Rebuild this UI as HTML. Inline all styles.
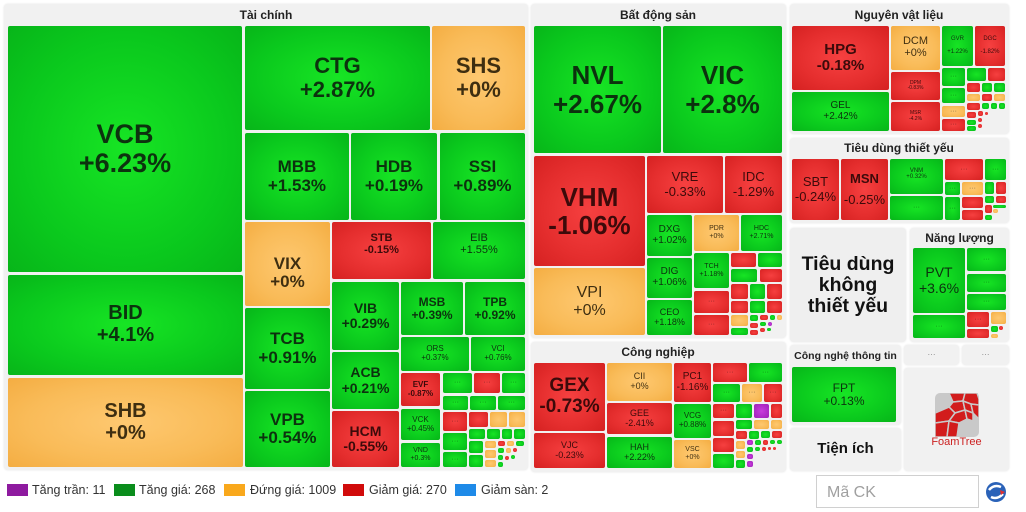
<!DOCTYPE html>
<html><head><meta charset="utf-8">
<style>
*{margin:0;padding:0;box-sizing:border-box}
html,body{width:1026px;height:512px;background:#fff;overflow:hidden;font-family:"Liberation Sans",Arial,sans-serif}
.p{position:absolute;background:#f1f1f1;border-radius:4px;box-shadow:0 0 2px rgba(0,0,0,.12)}
.t{position:absolute;font-size:12px;font-weight:bold;color:#222;text-align:center;white-space:nowrap}
.c{position:absolute;display:flex;align-items:center;justify-content:center;text-align:center;line-height:1.08;font-weight:bold;border-radius:2px;color:rgba(12,22,12,.86);white-space:nowrap;overflow:hidden}
.c>div{display:block}
.g{background:radial-gradient(ellipse at 50% 50%,#17e524 0%,#0ac81d 65%,#07b519 100%)}
.r{background:radial-gradient(ellipse at 50% 50%,#f64040 0%,#e52e2e 60%,#d52121 100%);color:rgba(35,5,5,.88)}
.o{background:radial-gradient(ellipse at 50% 50%,#fec870 0%,#f9bb58 60%,#f4ad42 100%);color:rgba(35,25,5,.88)}
.u{background:radial-gradient(ellipse at 50% 50%,#c83ddc 0%,#9f20b8 100%)}
.n{font-weight:normal}
.d{font-size:7px;font-weight:normal;color:rgba(0,0,0,.5)}
.lg{position:absolute;top:484px;width:21px;height:12px}
.lt{position:absolute;top:483px;font-size:12.5px;color:#333;white-space:nowrap}
</style></head><body>

<!-- Tài chính -->
<div class="p" style="left:4px;top:4px;width:524px;height:466px"></div>
<div class="t" style="left:216px;top:8px;width:100px">Tài chính</div>
<div class="c g" style="left:8px;top:26px;width:234px;height:246px;font-size:27px"><div>VCB<br>+6.23%</div></div>
<div class="c g" style="left:8px;top:275px;width:235px;height:100px;font-size:20px"><div>BID<br>+4.1%</div></div>
<div class="c o" style="left:8px;top:378px;width:235px;height:89px;font-size:20px"><div>SHB<br>+0%</div></div>
<div class="c g" style="left:245px;top:26px;width:185px;height:104px;font-size:22px"><div>CTG<br>+2.87%</div></div>
<div class="c o" style="left:432px;top:26px;width:93px;height:104px;font-size:22px"><div>SHS<br>+0%</div></div>
<div class="c g" style="left:245px;top:133px;width:104px;height:87px;font-size:17px"><div>MBB<br>+1.53%</div></div>
<div class="c g" style="left:351px;top:133px;width:86px;height:87px;font-size:17px"><div>HDB<br>+0.19%</div></div>
<div class="c g" style="left:440px;top:133px;width:85px;height:87px;font-size:17px"><div>SSI<br>+0.89%</div></div>
<div class="c o" style="left:245px;top:222px;width:85px;height:84px;font-size:17px;padding-top:18px"><div>VIX<br>+0%</div></div>
<div class="c r" style="left:332px;top:222px;width:99px;height:57px;font-size:11px;padding-bottom:12px"><div>STB<br>-0.15%</div></div>
<div class="c g n" style="left:433px;top:222px;width:92px;height:57px;font-size:11px;padding-bottom:12px"><div>EIB<br>+1.55%</div></div>
<div class="c g" style="left:245px;top:308px;width:85px;height:81px;font-size:17px"><div>TCB<br>+0.91%</div></div>
<div class="c g" style="left:245px;top:391px;width:85px;height:76px;font-size:17px"><div>VPB<br>+0.54%</div></div>
<div class="c g" style="left:332px;top:282px;width:67px;height:68px;font-size:14px"><div>VIB<br>+0.29%</div></div>
<div class="c g" style="left:332px;top:352px;width:67px;height:57px;font-size:14px"><div>ACB<br>+0.21%</div></div>
<div class="c r" style="left:332px;top:411px;width:67px;height:56px;font-size:14px"><div>HCM<br>-0.55%</div></div>
<div class="c g" style="left:401px;top:282px;width:62px;height:53px;font-size:12px"><div>MSB<br>+0.39%</div></div>
<div class="c g" style="left:465px;top:282px;width:60px;height:53px;font-size:12px"><div>TPB<br>+0.92%</div></div>
<div class="c g n" style="left:401px;top:337px;width:68px;height:34px;font-size:8px"><div>ORS<br>+0.37%</div></div>
<div class="c g n" style="left:471px;top:337px;width:54px;height:34px;font-size:8px"><div>VCI<br>+0.76%</div></div>
<div class="c r" style="left:401px;top:373px;width:39px;height:33px;font-size:8px"><div>EVF<br>-0.87%</div></div>
<div class="c g n" style="left:401px;top:409px;width:39px;height:31px;font-size:8px"><div>VCK<br>+0.45%</div></div>
<div class="c g n" style="left:401px;top:443px;width:39px;height:24px;font-size:7px"><div>VND<br>+0.3%</div></div>
<div class="c g d" style="left:443px;top:373px;width:29px;height:20px">···</div>
<div class="c r d" style="left:474px;top:373px;width:26px;height:20px">···</div>
<div class="c g d" style="left:502px;top:373px;width:23px;height:20px">···</div>
<div class="c g d" style="left:443px;top:396px;width:25px;height:14px">···</div>
<div class="c g d" style="left:470px;top:396px;width:26px;height:14px">···</div>
<div class="c g d" style="left:498px;top:396px;width:27px;height:14px">···</div>
<div class="c r d" style="left:443px;top:412px;width:24px;height:19px">···</div>
<div class="c r" style="left:469px;top:412px;width:19px;height:15px"></div>
<div class="c o" style="left:490px;top:412px;width:17px;height:15px"></div>
<div class="c o" style="left:509px;top:412px;width:16px;height:15px"></div>
<div class="c g d" style="left:443px;top:433px;width:24px;height:17px">···</div>
<div class="c g d" style="left:443px;top:452px;width:24px;height:15px">···</div>
<div class="c g" style="left:469px;top:429px;width:16px;height:10px"></div>
<div class="c g" style="left:487px;top:429px;width:13px;height:10px"></div>
<div class="c g" style="left:502px;top:429px;width:10px;height:10px"></div>
<div class="c g" style="left:514px;top:429px;width:11px;height:10px"></div>
<div class="c g" style="left:469px;top:441px;width:14px;height:12px"></div>
<div class="c g" style="left:469px;top:455px;width:14px;height:12px"></div>
<div class="c o" style="left:485px;top:441px;width:11px;height:7px"></div>
<div class="c r" style="left:498px;top:441px;width:7px;height:5px"></div>
<div class="c o" style="left:507px;top:441px;width:7px;height:5px"></div>
<div class="c g" style="left:516px;top:441px;width:8px;height:5px"></div>
<div class="c o" style="left:485px;top:450px;width:11px;height:8px"></div>
<div class="c g" style="left:498px;top:448px;width:6px;height:5px"></div>
<div class="c o" style="left:506px;top:448px;width:5px;height:5px"></div>
<div class="c r" style="left:513px;top:448px;width:4px;height:4px"></div>
<div class="c o" style="left:485px;top:460px;width:11px;height:7px"></div>
<div class="c g" style="left:498px;top:455px;width:5px;height:5px"></div>
<div class="c r" style="left:505px;top:456px;width:4px;height:4px"></div>
<div class="c g" style="left:498px;top:462px;width:5px;height:5px"></div>
<div class="c g" style="left:511px;top:455px;width:4px;height:4px"></div>

<!-- Bất động sản -->
<div class="p" style="left:531px;top:4px;width:255px;height:334px"></div>
<div class="t" style="left:598px;top:8px;width:120px">Bất động sản</div>
<div class="c g" style="left:534px;top:26px;width:127px;height:127px;font-size:26px"><div>NVL<br>+2.67%</div></div>
<div class="c g" style="left:663px;top:26px;width:119px;height:127px;font-size:26px"><div>VIC<br>+2.8%</div></div>
<div class="c r" style="left:534px;top:156px;width:111px;height:110px;font-size:26px"><div>VHM<br>-1.06%</div></div>
<div class="c o n" style="left:534px;top:268px;width:111px;height:67px;font-size:16px"><div>VPI<br>+0%</div></div>
<div class="c r n" style="left:647px;top:156px;width:76px;height:57px;font-size:13px"><div>VRE<br>-0.33%</div></div>
<div class="c r n" style="left:725px;top:156px;width:57px;height:57px;font-size:13px"><div>IDC<br>-1.29%</div></div>
<div class="c g n" style="left:647px;top:215px;width:45px;height:41px;font-size:10px"><div>DXG<br>+1.02%</div></div>
<div class="c o n" style="left:694px;top:215px;width:45px;height:36px;font-size:7px"><div>PDR<br>+0%</div></div>
<div class="c g n" style="left:741px;top:215px;width:41px;height:36px;font-size:7px"><div>HDC<br>+2.71%</div></div>
<div class="c g n" style="left:647px;top:258px;width:45px;height:40px;font-size:10px"><div>DIG<br>+1.06%</div></div>
<div class="c g n" style="left:647px;top:300px;width:45px;height:35px;font-size:9px"><div>CEO<br>+1.18%</div></div>
<div class="c g n" style="left:694px;top:253px;width:35px;height:35px;font-size:7px"><div>TCH<br>+1.18%</div></div>
<div class="c r d" style="left:694px;top:291px;width:35px;height:22px">···</div>
<div class="c r d" style="left:694px;top:315px;width:35px;height:20px">···</div>
<div class="c r" style="left:731px;top:253px;width:25px;height:14px"></div>
<div class="c g" style="left:758px;top:253px;width:24px;height:14px"></div>
<div class="c g" style="left:731px;top:269px;width:26px;height:13px"></div>
<div class="c r" style="left:760px;top:269px;width:22px;height:13px"></div>
<div class="c r" style="left:731px;top:284px;width:17px;height:15px"></div>
<div class="c g" style="left:750px;top:284px;width:15px;height:15px"></div>
<div class="c r" style="left:767px;top:284px;width:15px;height:15px"></div>
<div class="c r" style="left:731px;top:301px;width:17px;height:12px"></div>
<div class="c g" style="left:750px;top:301px;width:15px;height:12px"></div>
<div class="c r" style="left:767px;top:301px;width:15px;height:12px"></div>
<div class="c o" style="left:731px;top:315px;width:17px;height:11px"></div>
<div class="c g" style="left:731px;top:328px;width:17px;height:7px"></div>
<div class="c g" style="left:750px;top:315px;width:8px;height:6px"></div>
<div class="c r" style="left:760px;top:315px;width:8px;height:5px"></div>
<div class="c g" style="left:770px;top:315px;width:5px;height:5px"></div>
<div class="c o" style="left:777px;top:315px;width:5px;height:5px"></div>
<div class="c r" style="left:750px;top:323px;width:8px;height:5px"></div>
<div class="c g" style="left:760px;top:322px;width:6px;height:4px"></div>
<div class="c u" style="left:768px;top:322px;width:4px;height:4px"></div>
<div class="c r" style="left:750px;top:330px;width:8px;height:5px"></div>
<div class="c r" style="left:760px;top:328px;width:5px;height:4px"></div>
<div class="c g" style="left:767px;top:328px;width:4px;height:3px"></div>

<!-- Công nghiệp -->
<div class="p" style="left:531px;top:342px;width:255px;height:130px"></div>
<div class="t" style="left:598px;top:345px;width:120px">Công nghiệp</div>
<div class="c r" style="left:534px;top:363px;width:71px;height:68px;font-size:19px"><div>GEX<br>-0.73%</div></div>
<div class="c r n" style="left:534px;top:433px;width:71px;height:35px;font-size:9px"><div>VJC<br>-0.23%</div></div>
<div class="c o n" style="left:607px;top:363px;width:65px;height:38px;font-size:9px"><div>CII<br>+0%</div></div>
<div class="c r n" style="left:607px;top:403px;width:65px;height:31px;font-size:9px"><div>GEE<br>-2.41%</div></div>
<div class="c g n" style="left:607px;top:437px;width:65px;height:31px;font-size:9px"><div>HAH<br>+2.22%</div></div>
<div class="c r n" style="left:674px;top:363px;width:37px;height:39px;font-size:10px"><div>PC1<br>-1.16%</div></div>
<div class="c g n" style="left:674px;top:404px;width:37px;height:34px;font-size:8px"><div>VCG<br>+0.88%</div></div>
<div class="c o n" style="left:674px;top:440px;width:37px;height:28px;font-size:7px"><div>VSC<br>+0%</div></div>
<div class="c r d" style="left:713px;top:363px;width:34px;height:19px">···</div>
<div class="c g d" style="left:749px;top:363px;width:33px;height:19px">···</div>
<div class="c g d" style="left:713px;top:384px;width:27px;height:18px">···</div>
<div class="c o d" style="left:742px;top:384px;width:20px;height:18px">···</div>
<div class="c r d" style="left:764px;top:384px;width:18px;height:18px">···</div>
<div class="c r d" style="left:713px;top:404px;width:21px;height:14px">···</div>
<div class="c g" style="left:736px;top:404px;width:16px;height:14px"></div>
<div class="c u" style="left:754px;top:404px;width:15px;height:14px"></div>
<div class="c r" style="left:771px;top:404px;width:11px;height:14px"></div>
<div class="c r" style="left:713px;top:421px;width:21px;height:15px"></div>
<div class="c g" style="left:736px;top:420px;width:16px;height:9px"></div>
<div class="c o" style="left:754px;top:420px;width:15px;height:9px"></div>
<div class="c o" style="left:771px;top:420px;width:11px;height:9px"></div>
<div class="c r" style="left:713px;top:438px;width:21px;height:14px"></div>
<div class="c g" style="left:713px;top:454px;width:21px;height:14px"></div>
<div class="c r" style="left:736px;top:431px;width:11px;height:8px"></div>
<div class="c g" style="left:749px;top:431px;width:10px;height:8px"></div>
<div class="c g" style="left:761px;top:431px;width:9px;height:7px"></div>
<div class="c r" style="left:772px;top:431px;width:10px;height:7px"></div>
<div class="c o" style="left:736px;top:441px;width:9px;height:8px"></div>
<div class="c u" style="left:747px;top:440px;width:6px;height:5px"></div>
<div class="c g" style="left:755px;top:440px;width:6px;height:5px"></div>
<div class="c r" style="left:763px;top:440px;width:5px;height:5px"></div>
<div class="c g" style="left:770px;top:440px;width:5px;height:4px"></div>
<div class="c g" style="left:777px;top:440px;width:5px;height:4px"></div>
<div class="c o" style="left:736px;top:451px;width:9px;height:7px"></div>
<div class="c g" style="left:736px;top:460px;width:9px;height:8px"></div>
<div class="c g" style="left:747px;top:447px;width:6px;height:5px"></div>
<div class="c g" style="left:755px;top:447px;width:5px;height:4px"></div>
<div class="c r" style="left:762px;top:447px;width:4px;height:4px"></div>
<div class="c u" style="left:747px;top:454px;width:6px;height:5px"></div>
<div class="c u" style="left:747px;top:461px;width:6px;height:6px"></div>
<div class="c r" style="left:768px;top:447px;width:3px;height:3px"></div>
<div class="c r" style="left:773px;top:447px;width:3px;height:3px"></div>

<!-- Nguyên vật liệu -->
<div class="p" style="left:790px;top:4px;width:219px;height:130px"></div>
<div class="t" style="left:839px;top:8px;width:120px">Nguyên vật liệu</div>
<div class="c r" style="left:792px;top:26px;width:97px;height:64px;font-size:15px"><div>HPG<br>-0.18%</div></div>
<div class="c g n" style="left:792px;top:92px;width:97px;height:39px;font-size:10px"><div>GEL<br>+2.42%</div></div>
<div class="c o n" style="left:891px;top:26px;width:49px;height:44px;font-size:11px"><div>DCM<br>+0%</div></div>
<div class="c r n" style="left:891px;top:72px;width:49px;height:28px;font-size:5px"><div>DPM<br>-0.83%</div></div>
<div class="c r n" style="left:891px;top:102px;width:49px;height:29px;font-size:5px"><div>MSR<br>-4.2%</div></div>
<div class="c g n" style="left:942px;top:26px;width:31px;height:40px;font-size:6px;line-height:2.2"><div>GVR<br>+1.22%</div></div>
<div class="c r n" style="left:975px;top:26px;width:30px;height:40px;font-size:6px;line-height:2.2"><div>DGC<br>-1.82%</div></div>
<div class="c g d" style="left:942px;top:68px;width:23px;height:18px">···</div>
<div class="c g d" style="left:942px;top:88px;width:23px;height:15px">···</div>
<div class="c o d" style="left:942px;top:106px;width:23px;height:11px">···</div>
<div class="c r d" style="left:942px;top:119px;width:23px;height:12px">···</div>
<div class="c g" style="left:967px;top:68px;width:19px;height:13px"></div>
<div class="c r" style="left:988px;top:68px;width:17px;height:13px"></div>
<div class="c r" style="left:967px;top:83px;width:13px;height:9px"></div>
<div class="c g" style="left:982px;top:83px;width:10px;height:9px"></div>
<div class="c g" style="left:994px;top:83px;width:11px;height:9px"></div>
<div class="c o" style="left:967px;top:94px;width:13px;height:7px"></div>
<div class="c r" style="left:982px;top:94px;width:10px;height:7px"></div>
<div class="c o" style="left:994px;top:94px;width:11px;height:7px"></div>
<div class="c r" style="left:967px;top:103px;width:13px;height:7px"></div>
<div class="c g" style="left:982px;top:103px;width:7px;height:6px"></div>
<div class="c g" style="left:991px;top:103px;width:6px;height:6px"></div>
<div class="c g" style="left:999px;top:103px;width:6px;height:6px"></div>
<div class="c r" style="left:967px;top:112px;width:9px;height:6px"></div>
<div class="c r" style="left:978px;top:111px;width:5px;height:5px"></div>
<div class="c r" style="left:985px;top:112px;width:3px;height:3px"></div>
<div class="c g" style="left:967px;top:120px;width:9px;height:5px"></div>
<div class="c r" style="left:978px;top:118px;width:4px;height:4px"></div>
<div class="c g" style="left:967px;top:126px;width:9px;height:5px"></div>
<div class="c r" style="left:978px;top:124px;width:4px;height:4px"></div>

<!-- Tiêu dùng thiết yếu -->
<div class="p" style="left:790px;top:138px;width:219px;height:85px"></div>
<div class="t" style="left:839px;top:141px;width:120px">Tiêu dùng thiết yếu</div>
<div class="c r n" style="left:792px;top:159px;width:47px;height:61px;font-size:13px"><div>SBT<br>-0.24%</div></div>
<div class="c r" style="left:841px;top:159px;width:47px;height:61px;font-size:13px;line-height:1.6"><div>MSN<br><span class="n">-0.25%</span></div></div>
<div class="c g n" style="left:890px;top:159px;width:53px;height:35px;font-size:6px;align-items:flex-start;padding-top:9px"><div>VNM<br>+0.32%</div></div>
<div class="c g d" style="left:890px;top:196px;width:53px;height:24px">···</div>
<div class="c r d" style="left:945px;top:159px;width:38px;height:21px">···</div>
<div class="c g d" style="left:985px;top:159px;width:21px;height:21px">···</div>
<div class="c g d" style="left:945px;top:182px;width:15px;height:13px">···</div>
<div class="c o d" style="left:962px;top:182px;width:21px;height:13px">···</div>
<div class="c g" style="left:985px;top:182px;width:9px;height:12px"></div>
<div class="c r" style="left:996px;top:182px;width:10px;height:12px"></div>
<div class="c g d" style="left:945px;top:197px;width:15px;height:23px">···</div>
<div class="c r" style="left:962px;top:197px;width:21px;height:11px"></div>
<div class="c r" style="left:962px;top:210px;width:21px;height:10px"></div>
<div class="c g" style="left:985px;top:196px;width:9px;height:7px"></div>
<div class="c r" style="left:996px;top:196px;width:10px;height:7px"></div>
<div class="c r" style="left:985px;top:205px;width:7px;height:8px"></div>
<div class="c g" style="left:993px;top:205px;width:13px;height:3px"></div>
<div class="c o" style="left:993px;top:209px;width:5px;height:4px"></div>
<div class="c g" style="left:985px;top:215px;width:7px;height:5px"></div>

<!-- Tiêu dùng không thiết yếu -->
<div class="p" style="left:790px;top:228px;width:116px;height:114px;background:#efefef"></div>
<div class="c" style="left:790px;top:228px;width:116px;height:114px;font-size:19.5px;line-height:21px;color:#111;background:none"><div>Tiêu dùng<br>không<br>thiết yếu</div></div>

<!-- Năng lượng -->
<div class="p" style="left:910px;top:228px;width:99px;height:114px"></div>
<div class="t" style="left:910px;top:231px;width:99px">Năng lượng</div>
<div class="c g n" style="left:913px;top:248px;width:52px;height:65px;font-size:14px"><div>PVT<br>+3.6%</div></div>
<div class="c g d" style="left:913px;top:315px;width:52px;height:23px">···</div>
<div class="c g d" style="left:967px;top:248px;width:39px;height:23px">···</div>
<div class="c g d" style="left:967px;top:274px;width:39px;height:18px">···</div>
<div class="c g d" style="left:967px;top:294px;width:39px;height:16px">···</div>
<div class="c r d" style="left:967px;top:312px;width:22px;height:15px">···</div>
<div class="c o" style="left:991px;top:312px;width:15px;height:12px"></div>
<div class="c r" style="left:967px;top:329px;width:22px;height:9px"></div>
<div class="c g" style="left:991px;top:326px;width:7px;height:6px"></div>
<div class="c r" style="left:999px;top:326px;width:4px;height:4px"></div>
<div class="c o" style="left:991px;top:334px;width:7px;height:4px"></div>

<!-- Công nghệ thông tin -->
<div class="p" style="left:790px;top:345px;width:111px;height:80px"></div>
<div class="t" style="left:790px;top:350px;width:111px;font-size:10.5px">Công nghệ thông tin</div>
<div class="c g n" style="left:792px;top:367px;width:104px;height:55px;font-size:12px"><div>FPT<br>+0.13%</div></div>

<!-- Tiện ích -->
<div class="p" style="left:790px;top:428px;width:111px;height:43px"></div>
<div class="c" style="left:790px;top:428px;width:111px;height:43px;font-size:15px;color:#111;background:none"><div>Tiện ích</div></div>

<!-- ... panels -->
<div class="p" style="left:904px;top:345px;width:55px;height:20px"></div>
<div class="c d" style="left:904px;top:345px;width:55px;height:20px;background:none;font-size:8px">···</div>
<div class="p" style="left:962px;top:345px;width:47px;height:20px"></div>
<div class="c d" style="left:962px;top:345px;width:47px;height:20px;background:none;font-size:8px">···</div>

<!-- FoamTree -->
<div class="p" style="left:904px;top:368px;width:105px;height:103px"></div>
<svg style="position:absolute;left:935px;top:393px" width="44" height="44" viewBox="0 0 44 44">
<rect x="0" y="0" width="44" height="44" rx="5" fill="#c9c9c9"/>
<g fill="#d21c1c" stroke="#c9c9c9" stroke-width="1.5">
<polygon points="14,0 30,0 28,8 18,9"/>
<polygon points="30,0 42,0 44,6 44,12 36,11 28,8"/>
<polygon points="18,9 28,8 30,17 20,20 14,14"/>
<polygon points="28,8 36,11 38,20 30,17"/>
<polygon points="36,11 44,12 44,26 38,20"/>
<polygon points="0,20 14,14 20,20 14,28 0,30"/>
<polygon points="20,20 30,17 32,26 24,30 14,28"/>
<polygon points="30,17 38,20 38,28 32,26"/>
<polygon points="0,30 14,28 12,44 0,44"/>
<polygon points="14,28 24,30 22,44 12,44"/>
</g>
</svg>
<div style="position:absolute;left:904px;top:436px;width:105px;text-align:center;font-size:11px;color:#cc2222">FoamTree</div>

<!-- Legend -->
<div class="lg" style="left:7px;background:#8e1a9f"></div>
<div class="lt" style="left:32px">Tăng trần: 11</div>
<div class="lg" style="left:114px;background:#0a8d1c"></div>
<div class="lt" style="left:139px">Tăng giá: 268</div>
<div class="lg" style="left:224px;background:#f9a81c"></div>
<div class="lt" style="left:250px">Đứng giá: 1009</div>
<div class="lg" style="left:343px;background:#d10b0b"></div>
<div class="lt" style="left:369px">Giảm giá: 270</div>
<div class="lg" style="left:455px;background:#1e8ae8"></div>
<div class="lt" style="left:481px">Giảm sàn: 2</div>

<!-- Search -->
<div style="position:absolute;left:816px;top:475px;width:163px;height:33px;border:1px solid #d0d0d0;background:#fff;font-size:16px;color:#a0a0a0;padding:8px 0 0 10px">Mã CK</div>
<svg style="position:absolute;left:985px;top:481px" width="22" height="22" viewBox="0 0 22 22">
<circle cx="11" cy="11" r="10" fill="#2a62b8"/>
<path d="M4 9 Q9 3 16 6" stroke="#fff" stroke-width="2.5" fill="none"/>
<path d="M6 16 Q12 19 18 13" stroke="#fff" stroke-width="2.5" fill="none"/>
<path d="M15 9 L20 11 L16 14 Z" fill="#e03030"/>
</svg>
</body></html>
